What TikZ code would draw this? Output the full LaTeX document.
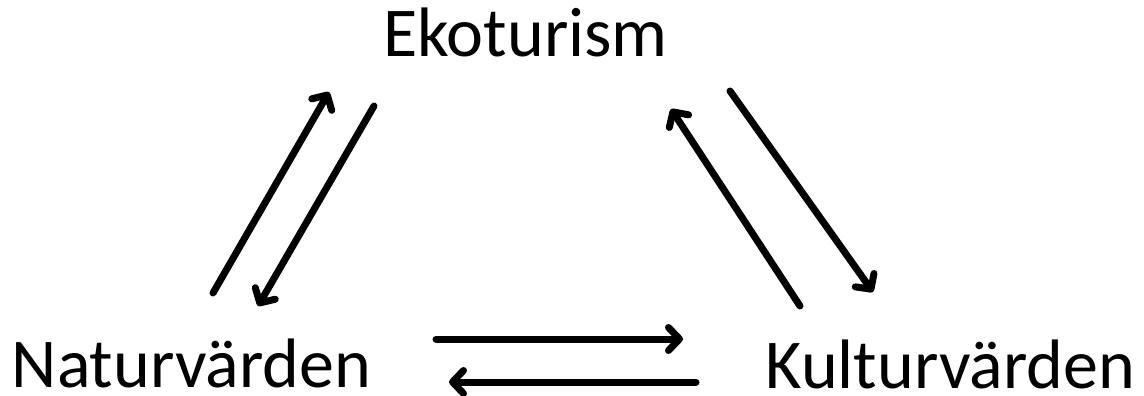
\documentclass[tikz,border=0pt]{standalone}
\usepackage{fontspec}
\setmainfont{Carlito}
\usetikzlibrary{arrows.meta}
\begin{document}
\begin{tikzpicture}[x=1pt,y=-1pt,
  lbl/.style={anchor=base,inner sep=0pt,text depth=0pt,font=\fontsize{70}{80}\selectfont},
  arr/.style={line width=7pt,line cap=round,-{Straight Barb[length=11pt,width=23pt,line width=7pt,round]}}]
\useasboundingbox (0,0) rectangle (1144,396);
\node[lbl] (eko) at (525.5,57) {Ekoturism};
\node[lbl] (nat) at (191.5,387) {Naturvärden};
\node[lbl] (kul) at (950.5,388) {Kulturvärden};
\coordinate (a1s) at (213,293); \coordinate (a1e) at (329,92);
\coordinate (a2s) at (374,106); \coordinate (a2e) at (258,306);
\coordinate (a3s) at (730,91); \coordinate (a3e) at (873,292);
\coordinate (a4s) at (800,306); \coordinate (a4e) at (671,109);
\coordinate (a5s) at (436,339); \coordinate (a5e) at (683,339);
\coordinate (a6s) at (696,382); \coordinate (a6e) at (449,382);
\draw[arr] (a1s) -- (a1e);
\draw[arr] (a2s) -- (a2e);
\draw[arr] (a3s) -- (a3e);
\draw[arr] (a4s) -- (a4e);
\draw[arr] (a5s) -- (a5e);
\draw[arr] (a6s) -- (a6e);
\end{tikzpicture}
\end{document}
